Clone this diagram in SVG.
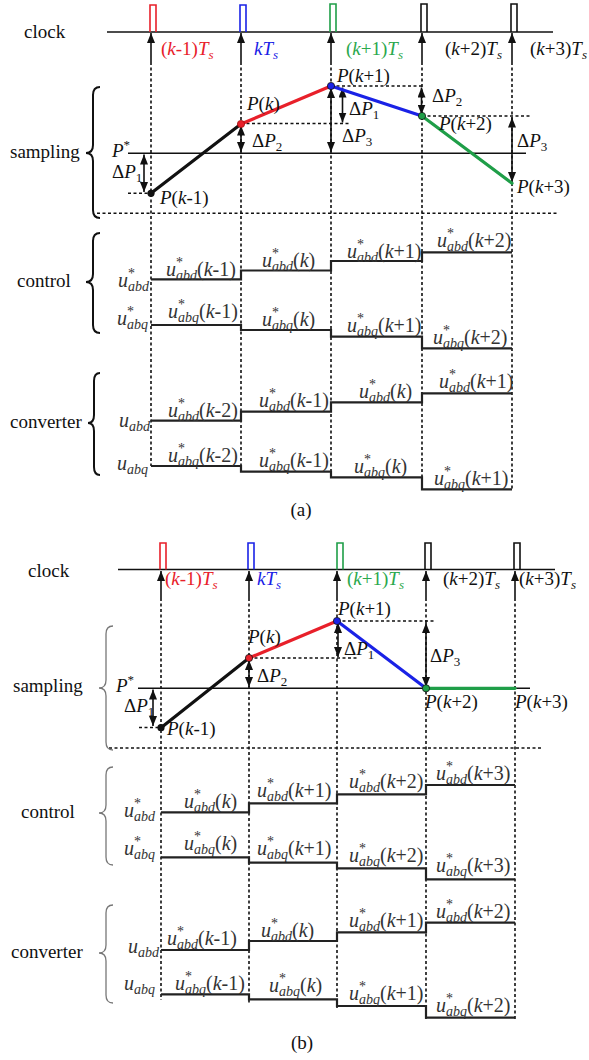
<svg xmlns="http://www.w3.org/2000/svg" width="589" height="1060" viewBox="0 0 589 1060">
<style>
.t{font-family:"Liberation Serif","Times New Roman",serif;font-size:19px;fill:#111}
.u{font-family:"Liberation Serif","Times New Roman",serif;font-size:20px;fill:#333}
.i{font-style:italic}
.s{font-size:13px}
.sb{font-size:14px}
.sup{font-size:14px}
.ln{stroke:#111;stroke-width:1.6;fill:none}
.dash{stroke:#111;stroke-width:1.6;stroke-dasharray:3 2.5;fill:none}
.st{stroke:#222;stroke-width:2.2;fill:none}
.arr{stroke:#111;stroke-width:1.6;fill:none;marker-end:url(#ah)}
.dbl{stroke:#111;stroke-width:1.6;fill:none;marker-start:url(#ah);marker-end:url(#ah)}
.thick{stroke-width:3.2;fill:none;stroke-linecap:round}
.braceA{stroke:#111;stroke-width:2;fill:none}
.braceB{stroke:#777;stroke-width:1.3;fill:none}
.red{fill:#e8202a}.blue{fill:#1a22e6}.green{fill:#2aa84c}
</style>
<defs>
<marker id="ah" viewBox="0 0 10 8" refX="10" refY="4" markerWidth="10" markerHeight="8" markerUnits="userSpaceOnUse" orient="auto-start-reverse">
<path d="M0,0 L10,4 L0,8 z" fill="#111"/>
</marker>
</defs>

<!-- ================= (a) ================= -->
<g id="a-clock">
<text class="t" x="24" y="38">clock</text>
<line class="ln" x1="107" y1="32" x2="553" y2="32"/>
<polyline points="150,32 150,5 156,5 156,32" stroke="#e8202a" stroke-width="1.6" fill="none"/>
<polyline points="240,32 240,5 246,5 246,32" stroke="#1a22e6" stroke-width="1.6" fill="none"/>
<polyline points="330,32 330,4 336,4 336,32" stroke="#1f9e48" stroke-width="1.6" fill="none"/>
<polyline points="421,32 421,4 427,4 427,32" stroke="#111" stroke-width="1.6" fill="none"/>
<polyline points="511,32 511,4 517,4 517,32" stroke="#111" stroke-width="1.6" fill="none"/>
<text class="t red" x="161" y="55">(<tspan class="i">k</tspan>-1)<tspan class="i">T</tspan><tspan class="s i" dy="4">s</tspan></text>
<text class="t blue" x="254" y="55"><tspan class="i">kT</tspan><tspan class="s i" dy="4">s</tspan></text>
<text class="t green" x="346" y="55">(<tspan class="i">k</tspan>+1)<tspan class="i">T</tspan><tspan class="s i" dy="4">s</tspan></text>
<text class="t" x="445" y="55">(<tspan class="i">k</tspan>+2)<tspan class="i">T</tspan><tspan class="s i" dy="4">s</tspan></text>
<text class="t" x="530" y="55">(<tspan class="i">k</tspan>+3)<tspan class="i">T</tspan><tspan class="s i" dy="4">s</tspan></text>
</g>

<g id="a-connectors">
<line class="arr" x1="151" y1="62" x2="151" y2="33"/>
<line class="arr" x1="241" y1="62" x2="241" y2="33"/>
<line class="arr" x1="331" y1="62" x2="331" y2="33"/>
<line class="arr" x1="422" y1="62" x2="422" y2="33"/>
<line class="arr" x1="512" y1="62" x2="512" y2="33"/>
<line class="dash" x1="151" y1="62" x2="151" y2="466"/>
<line class="dash" x1="241" y1="62" x2="241" y2="472"/>
<line class="dash" x1="331" y1="62" x2="331" y2="477"/>
<line class="dash" x1="422" y1="62" x2="422" y2="489"/>
<line class="dash" x1="512" y1="62" x2="512" y2="489"/>
<line class="dash" x1="97" y1="213.3" x2="557" y2="213.3"/>
<line class="dash" x1="128" y1="193.3" x2="150" y2="193.3"/>
<line class="dash" x1="241" y1="123.5" x2="351" y2="123.5"/>
<line class="dash" x1="331" y1="86" x2="424" y2="86"/>
<line class="dash" x1="422" y1="116" x2="531" y2="116"/>
<line class="dbl" x1="144" y1="154.5" x2="144" y2="192"/>
<line class="dbl" x1="241" y1="125.5" x2="241" y2="152"/>
<line class="dbl" x1="342.5" y1="87.5" x2="342.5" y2="122.5"/>
<line class="dbl" x1="331" y1="88" x2="331" y2="152"/>
<line class="dbl" x1="421.5" y1="87.5" x2="421.5" y2="114.5"/>
<line class="dbl" x1="512" y1="117.5" x2="512" y2="182"/>
</g>

<g id="a-sampling">
<path class="braceA" d="M100,87 Q93,87 93,95 L93,145 Q93,153 86,153 Q93,153 93,161 L93,210 Q93,218 100,218"/>
<text class="t" x="10" y="158">sampling</text>
<line class="ln" x1="128" y1="153.3" x2="526" y2="153.3"/>
<text class="t" x="112" y="157"><tspan class="i">P</tspan><tspan class="s" dy="-8">*</tspan></text>
<text class="t" x="112" y="178">Δ<tspan class="i">P</tspan><tspan class="s" dy="4">1</tspan></text>
<line class="thick" stroke="#111" x1="151" y1="193.3" x2="241" y2="124"/>
<line class="thick" stroke="#e8202a" x1="241" y1="124" x2="331" y2="86"/>
<line class="thick" stroke="#1a22e6" x1="331" y1="86" x2="422" y2="116"/>
<line class="thick" stroke="#1f9e48" x1="422" y1="116" x2="512" y2="183.3"/>
<circle cx="151" cy="193.3" r="3.6" fill="#111"/>
<circle cx="241" cy="124" r="3.6" fill="#e8202a" stroke="#a01010" stroke-width="0.8"/>
<circle cx="331" cy="86" r="3.6" fill="#1a22e6" stroke="#111" stroke-width="0.8"/>
<circle cx="422" cy="116" r="3.6" fill="#1f9e48" stroke="#111" stroke-width="0.8"/>
<text class="t" x="160" y="204"><tspan class="i">P</tspan>(<tspan class="i">k</tspan>-1)</text>
<text class="t" x="247" y="110"><tspan class="i">P</tspan>(<tspan class="i">k</tspan>)</text>
<text class="t" x="337" y="82"><tspan class="i">P</tspan>(<tspan class="i">k</tspan>+1)</text>
<text class="t" x="439" y="130"><tspan class="i">P</tspan>(<tspan class="i">k</tspan>+2)</text>
<text class="t" x="517" y="193"><tspan class="i">P</tspan>(<tspan class="i">k</tspan>+3)</text>
<text class="t" x="252" y="147">Δ<tspan class="i">P</tspan><tspan class="s" dy="4">2</tspan></text>
<text class="t" x="349" y="115">Δ<tspan class="i">P</tspan><tspan class="s" dy="4">1</tspan></text>
<text class="t" x="342" y="142">Δ<tspan class="i">P</tspan><tspan class="s" dy="4">3</tspan></text>
<text class="t" x="432" y="102">Δ<tspan class="i">P</tspan><tspan class="s" dy="4">2</tspan></text>
<text class="t" x="517" y="147">Δ<tspan class="i">P</tspan><tspan class="s" dy="4">3</tspan></text>
</g>

<g id="a-control">
<path class="braceA" d="M100,233 Q93,233 93,241 L93,274 Q93,282 86,282 Q93,282 93,290 L93,325 Q93,333 100,333"/>
<text class="t" x="17" y="287">control</text>
<text class="u" x="118" y="287"><tspan class="i">u</tspan><tspan class="sup" dy="-9">*</tspan><tspan class="sb i" dx="-7" dy="13">abd</tspan></text>
<text class="u" x="117" y="325"><tspan class="i">u</tspan><tspan class="sup" dy="-9">*</tspan><tspan class="sb i" dx="-7" dy="13">abq</tspan></text>
<polyline class="st" points="151,279.3 241,279.3 241,270.5 331,270.5 331,261 422,261 422,252.3 512,252.3"/>
<polyline class="st" points="151,325 241,325 241,330 331,330 331,336.7 422,336.7 422,348.3 512,348.3"/>
<text class="u" x="166" y="276"><tspan class="i">u</tspan><tspan class="sup" dy="-9">*</tspan><tspan class="sb i" dx="-7" dy="13">abd</tspan><tspan dy="-4">(</tspan><tspan class="i">k</tspan>-1)</text>
<text class="u" x="262" y="267"><tspan class="i">u</tspan><tspan class="sup" dy="-9">*</tspan><tspan class="sb i" dx="-7" dy="13">abd</tspan><tspan dy="-4">(</tspan><tspan class="i">k</tspan>)</text>
<text class="u" x="347" y="258"><tspan class="i">u</tspan><tspan class="sup" dy="-9">*</tspan><tspan class="sb i" dx="-7" dy="13">abd</tspan><tspan dy="-4">(</tspan><tspan class="i">k</tspan>+1)</text>
<text class="u" x="437" y="247"><tspan class="i">u</tspan><tspan class="sup" dy="-9">*</tspan><tspan class="sb i" dx="-7" dy="13">abd</tspan><tspan dy="-4">(</tspan><tspan class="i">k</tspan>+2)</text>
<text class="u" x="168" y="318"><tspan class="i">u</tspan><tspan class="sup" dy="-9">*</tspan><tspan class="sb i" dx="-7" dy="13">abq</tspan><tspan dy="-4">(</tspan><tspan class="i">k</tspan>-1)</text>
<text class="u" x="262" y="326"><tspan class="i">u</tspan><tspan class="sup" dy="-9">*</tspan><tspan class="sb i" dx="-7" dy="13">abq</tspan><tspan dy="-4">(</tspan><tspan class="i">k</tspan>)</text>
<text class="u" x="347" y="332"><tspan class="i">u</tspan><tspan class="sup" dy="-9">*</tspan><tspan class="sb i" dx="-7" dy="13">abq</tspan><tspan dy="-4">(</tspan><tspan class="i">k</tspan>+1)</text>
<text class="u" x="433" y="344"><tspan class="i">u</tspan><tspan class="sup" dy="-9">*</tspan><tspan class="sb i" dx="-7" dy="13">abq</tspan><tspan dy="-4">(</tspan><tspan class="i">k</tspan>+2)</text>
</g>

<g id="a-converter">
<path class="braceA" d="M100,373 Q94,373 94,381 L94,415 Q94,423 88,423 Q94,423 94,431 L94,467 Q94,475 100,475"/>
<text class="t" x="10" y="428">converter</text>
<text class="u" x="119" y="427"><tspan class="i">u</tspan><tspan class="sb i" dy="4">abd</tspan></text>
<text class="u" x="117" y="470"><tspan class="i">u</tspan><tspan class="sb i" dy="4">abq</tspan></text>
<polyline class="st" points="151,420.7 241,420.7 241,411.7 331,411.7 331,402.3 422,402.3 422,393.3 512,393.3"/>
<polyline class="st" points="151,466 241,466 241,471.7 331,471.7 331,477.3 422,477.3 422,489.3 512,489.3"/>
<text class="u" x="168" y="417"><tspan class="i">u</tspan><tspan class="sup" dy="-9">*</tspan><tspan class="sb i" dx="-7" dy="13">abd</tspan><tspan dy="-4">(</tspan><tspan class="i">k</tspan>-2)</text>
<text class="u" x="259" y="407"><tspan class="i">u</tspan><tspan class="sup" dy="-9">*</tspan><tspan class="sb i" dx="-7" dy="13">abd</tspan><tspan dy="-4">(</tspan><tspan class="i">k</tspan>-1)</text>
<text class="u" x="359" y="398"><tspan class="i">u</tspan><tspan class="sup" dy="-9">*</tspan><tspan class="sb i" dx="-7" dy="13">abd</tspan><tspan dy="-4">(</tspan><tspan class="i">k</tspan>)</text>
<text class="u" x="439" y="388"><tspan class="i">u</tspan><tspan class="sup" dy="-9">*</tspan><tspan class="sb i" dx="-7" dy="13">abd</tspan><tspan dy="-4">(</tspan><tspan class="i">k</tspan>+1)</text>
<text class="u" x="168" y="462"><tspan class="i">u</tspan><tspan class="sup" dy="-9">*</tspan><tspan class="sb i" dx="-7" dy="13">abq</tspan><tspan dy="-4">(</tspan><tspan class="i">k</tspan>-2)</text>
<text class="u" x="259" y="467"><tspan class="i">u</tspan><tspan class="sup" dy="-9">*</tspan><tspan class="sb i" dx="-7" dy="13">abq</tspan><tspan dy="-4">(</tspan><tspan class="i">k</tspan>-1)</text>
<text class="u" x="354" y="473"><tspan class="i">u</tspan><tspan class="sup" dy="-9">*</tspan><tspan class="sb i" dx="-7" dy="13">abq</tspan><tspan dy="-4">(</tspan><tspan class="i">k</tspan>)</text>
<text class="u" x="434" y="485"><tspan class="i">u</tspan><tspan class="sup" dy="-9">*</tspan><tspan class="sb i" dx="-7" dy="13">abq</tspan><tspan dy="-4">(</tspan><tspan class="i">k</tspan>+1)</text>
<text class="t" x="301" y="516" text-anchor="middle">(a)</text>
</g>

<!-- ================= (b) ================= -->
<g id="b-clock">
<text class="t" x="28" y="577">clock</text>
<line class="ln" x1="118" y1="569.5" x2="555" y2="569.5"/>
<polyline points="160,569.5 160,543 166,543 166,569.5" stroke="#e8202a" stroke-width="1.6" fill="none"/>
<polyline points="248,569.5 248,543 254,543 254,569.5" stroke="#1a22e6" stroke-width="1.6" fill="none"/>
<polyline points="337,569.5 337,543 343,543 343,569.5" stroke="#1f9e48" stroke-width="1.6" fill="none"/>
<polyline points="425,569.5 425,543 431,543 431,569.5" stroke="#111" stroke-width="1.6" fill="none"/>
<polyline points="514,569.5 514,543 520,543 520,569.5" stroke="#111" stroke-width="1.6" fill="none"/>
<text class="t red" x="165" y="585">(<tspan class="i">k</tspan>-1)<tspan class="i">T</tspan><tspan class="s i" dy="4">s</tspan></text>
<text class="t blue" x="257" y="585"><tspan class="i">kT</tspan><tspan class="s i" dy="4">s</tspan></text>
<text class="t green" x="347" y="585">(<tspan class="i">k</tspan>+1)<tspan class="i">T</tspan><tspan class="s i" dy="4">s</tspan></text>
<text class="t" x="443" y="585">(<tspan class="i">k</tspan>+2)<tspan class="i">T</tspan><tspan class="s i" dy="4">s</tspan></text>
<text class="t" x="519" y="585">(<tspan class="i">k</tspan>+3)<tspan class="i">T</tspan><tspan class="s i" dy="4">s</tspan></text>
</g>

<g id="b-connectors">
<line class="arr" x1="161" y1="598" x2="161" y2="571"/>
<line class="arr" x1="249" y1="598" x2="249" y2="571"/>
<line class="arr" x1="337" y1="598" x2="337" y2="571"/>
<line class="arr" x1="426" y1="598" x2="426" y2="571"/>
<line class="arr" x1="515" y1="598" x2="515" y2="571"/>
<line class="dash" x1="161" y1="598" x2="161" y2="1000"/>
<line class="dash" x1="249" y1="598" x2="249" y2="1003"/>
<line class="dash" x1="337" y1="598" x2="337" y2="1009"/>
<line class="dash" x1="426" y1="598" x2="426" y2="1020"/>
<line class="dash" x1="515" y1="598" x2="515" y2="1020"/>
<line class="dash" x1="109" y1="748" x2="541" y2="748"/>
<line class="dash" x1="139" y1="727.5" x2="160" y2="727.5"/>
<line class="dash" x1="249" y1="658" x2="357" y2="658"/>
<line class="dash" x1="337" y1="621" x2="434" y2="621"/>
<line class="dbl" x1="153" y1="689.5" x2="153" y2="726"/>
<line class="dbl" x1="249" y1="660" x2="249" y2="687"/>
<line class="dbl" x1="338" y1="623" x2="338" y2="657"/>
<line class="dbl" x1="426" y1="623" x2="426" y2="687"/>
</g>

<g id="b-sampling">
<path class="braceB" d="M113,626 Q106,626 106,634 L106,680 Q106,688 99,688 Q106,688 106,696 L106,742 Q106,750 113,750"/>
<text class="t" x="13" y="692">sampling</text>
<line class="ln" x1="138" y1="688.3" x2="530" y2="688.3"/>
<text class="t" x="116" y="692"><tspan class="i">P</tspan><tspan class="s" dy="-8">*</tspan></text>
<text class="t" x="124" y="712">Δ<tspan class="i">P</tspan><tspan class="s" dy="4">1</tspan></text>
<line class="thick" stroke="#111" x1="161" y1="727.7" x2="249" y2="658"/>
<line class="thick" stroke="#e8202a" x1="249" y1="658" x2="337" y2="621"/>
<line class="thick" stroke="#1a22e6" x1="337" y1="621" x2="426" y2="688.3"/>
<line class="thick" stroke="#1f9e48" x1="426" y1="688.3" x2="515" y2="688.3"/>
<circle cx="161" cy="727.7" r="3.6" fill="#111"/>
<circle cx="249" cy="658" r="3.6" fill="#e8202a" stroke="#111" stroke-width="0.8"/>
<circle cx="337" cy="621" r="3.6" fill="#1a22e6" stroke="#111" stroke-width="0.8"/>
<circle cx="426" cy="688.3" r="3.6" fill="#1f9e48" stroke="#111" stroke-width="0.8"/>
<text class="t" x="167" y="735"><tspan class="i">P</tspan>(<tspan class="i">k</tspan>-1)</text>
<text class="t" x="248" y="643"><tspan class="i">P</tspan>(<tspan class="i">k</tspan>)</text>
<text class="t" x="338" y="615"><tspan class="i">P</tspan>(<tspan class="i">k</tspan>+1)</text>
<text class="t" x="425" y="708"><tspan class="i">P</tspan>(<tspan class="i">k</tspan>+2)</text>
<text class="t" x="515" y="708"><tspan class="i">P</tspan>(<tspan class="i">k</tspan>+3)</text>
<text class="t" x="257" y="682">Δ<tspan class="i">P</tspan><tspan class="s" dy="4">2</tspan></text>
<text class="t" x="344" y="655">Δ<tspan class="i">P</tspan><tspan class="s" dy="4">1</tspan></text>
<text class="t" x="430" y="662">Δ<tspan class="i">P</tspan><tspan class="s" dy="4">3</tspan></text>
</g>

<g id="b-control">
<path class="braceB" d="M113,767 Q106,767 106,775 L106,805 Q106,813 99,813 Q106,813 106,821 L106,857 Q106,865 113,865"/>
<text class="t" x="21" y="818">control</text>
<text class="u" x="124" y="817"><tspan class="i">u</tspan><tspan class="sup" dy="-9">*</tspan><tspan class="sb i" dx="-7" dy="13">abd</tspan></text>
<text class="u" x="124" y="855"><tspan class="i">u</tspan><tspan class="sup" dy="-9">*</tspan><tspan class="sb i" dx="-7" dy="13">abq</tspan></text>
<polyline class="st" points="161,812.3 249,812.3 249,803.3 337,803.3 337,794.3 426,794.3 426,785 515,785"/>
<polyline class="st" points="161,857.3 249,857.3 249,862.7 337,862.7 337,868.3 426,868.3 426,879.3 515,879.3"/>
<text class="u" x="184" y="808"><tspan class="i">u</tspan><tspan class="sup" dy="-9">*</tspan><tspan class="sb i" dx="-7" dy="13">abd</tspan><tspan dy="-4">(</tspan><tspan class="i">k</tspan>)</text>
<text class="u" x="257" y="797"><tspan class="i">u</tspan><tspan class="sup" dy="-9">*</tspan><tspan class="sb i" dx="-7" dy="13">abd</tspan><tspan dy="-4">(</tspan><tspan class="i">k</tspan>+1)</text>
<text class="u" x="349" y="788"><tspan class="i">u</tspan><tspan class="sup" dy="-9">*</tspan><tspan class="sb i" dx="-7" dy="13">abd</tspan><tspan dy="-4">(</tspan><tspan class="i">k</tspan>+2)</text>
<text class="u" x="436" y="780"><tspan class="i">u</tspan><tspan class="sup" dy="-9">*</tspan><tspan class="sb i" dx="-7" dy="13">abd</tspan><tspan dy="-4">(</tspan><tspan class="i">k</tspan>+3)</text>
<text class="u" x="184" y="850"><tspan class="i">u</tspan><tspan class="sup" dy="-9">*</tspan><tspan class="sb i" dx="-7" dy="13">abq</tspan><tspan dy="-4">(</tspan><tspan class="i">k</tspan>)</text>
<text class="u" x="257" y="855"><tspan class="i">u</tspan><tspan class="sup" dy="-9">*</tspan><tspan class="sb i" dx="-7" dy="13">abq</tspan><tspan dy="-4">(</tspan><tspan class="i">k</tspan>+1)</text>
<text class="u" x="349" y="862"><tspan class="i">u</tspan><tspan class="sup" dy="-9">*</tspan><tspan class="sb i" dx="-7" dy="13">abq</tspan><tspan dy="-4">(</tspan><tspan class="i">k</tspan>+2)</text>
<text class="u" x="436" y="872"><tspan class="i">u</tspan><tspan class="sup" dy="-9">*</tspan><tspan class="sb i" dx="-7" dy="13">abq</tspan><tspan dy="-4">(</tspan><tspan class="i">k</tspan>+3)</text>
</g>

<g id="b-converter">
<path class="braceB" d="M113,905 Q106,905 106,913 L106,945 Q106,953 99,953 Q106,953 106,961 L106,995 Q106,1003 113,1003"/>
<text class="t" x="11" y="958">converter</text>
<text class="u" x="128" y="953"><tspan class="i">u</tspan><tspan class="sb i" dy="4">abd</tspan></text>
<text class="u" x="124" y="990"><tspan class="i">u</tspan><tspan class="sb i" dy="4">abq</tspan></text>
<polyline class="st" points="161,950 249,950 249,941 337,941 337,932.3 426,932.3 426,922.7 515,922.7"/>
<polyline class="st" points="161,994.3 249,994.3 249,999.3 337,999.3 337,1006 426,1006 426,1017.7 515,1017.7"/>
<text class="u" x="167" y="945"><tspan class="i">u</tspan><tspan class="sup" dy="-9">*</tspan><tspan class="sb i" dx="-7" dy="13">abd</tspan><tspan dy="-4">(</tspan><tspan class="i">k</tspan>-1)</text>
<text class="u" x="261" y="937"><tspan class="i">u</tspan><tspan class="sup" dy="-9">*</tspan><tspan class="sb i" dx="-7" dy="13">abd</tspan><tspan dy="-4">(</tspan><tspan class="i">k</tspan>)</text>
<text class="u" x="349" y="927"><tspan class="i">u</tspan><tspan class="sup" dy="-9">*</tspan><tspan class="sb i" dx="-7" dy="13">abd</tspan><tspan dy="-4">(</tspan><tspan class="i">k</tspan>+1)</text>
<text class="u" x="436" y="918"><tspan class="i">u</tspan><tspan class="sup" dy="-9">*</tspan><tspan class="sb i" dx="-7" dy="13">abd</tspan><tspan dy="-4">(</tspan><tspan class="i">k</tspan>+2)</text>
<text class="u" x="175" y="990"><tspan class="i">u</tspan><tspan class="sup" dy="-9">*</tspan><tspan class="sb i" dx="-7" dy="13">abq</tspan><tspan dy="-4">(</tspan><tspan class="i">k</tspan>-1)</text>
<text class="u" x="269" y="992"><tspan class="i">u</tspan><tspan class="sup" dy="-9">*</tspan><tspan class="sb i" dx="-7" dy="13">abq</tspan><tspan dy="-4">(</tspan><tspan class="i">k</tspan>)</text>
<text class="u" x="349" y="1000"><tspan class="i">u</tspan><tspan class="sup" dy="-9">*</tspan><tspan class="sb i" dx="-7" dy="13">abq</tspan><tspan dy="-4">(</tspan><tspan class="i">k</tspan>+1)</text>
<text class="u" x="436" y="1012"><tspan class="i">u</tspan><tspan class="sup" dy="-9">*</tspan><tspan class="sb i" dx="-7" dy="13">abq</tspan><tspan dy="-4">(</tspan><tspan class="i">k</tspan>+2)</text>
<text class="t" x="302" y="1049" text-anchor="middle">(b)</text>
</g>
</svg>
